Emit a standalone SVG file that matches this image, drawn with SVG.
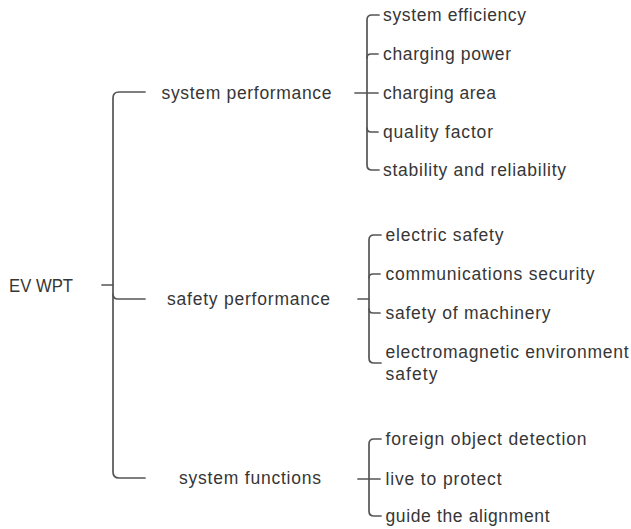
<svg xmlns="http://www.w3.org/2000/svg" width="631" height="529" viewBox="0 0 631 529">
  <style>
    text { font-family: "Liberation Sans", Arial, Helvetica, sans-serif; font-size: 17.5px; fill: #363636; }
    .link { fill: none; stroke: #555555; stroke-width: 1.7; stroke-linecap: round; stroke-linejoin: round; }
  </style>
  <rect width="631" height="529" fill="#ffffff"/>

  <!-- connectors -->
  <g id="connectors">
    <!-- root bracket -->
    <path class="link" d="M102,285 H113"/>
    <path class="link" d="M145,92 H119 Q113,92 113,98 V472 Q113,478 119,478 H145"/>
    <path class="link" d="M113,294 Q113,299 118,299 H145"/>

    <!-- system performance bracket -->
    <path class="link" d="M355,93 H378"/>
    <path class="link" d="M379,15 H372 Q367,15 367,20 V165 Q367,170 372,170 H379"/>
    <path class="link" d="M378,54 H371 Q367,54 367,58"/>
    <path class="link" d="M367,128 Q367,132 371,132 H378"/>

    <!-- safety performance bracket -->
    <path class="link" d="M358,299 H369"/>
    <path class="link" d="M381,235 H374 Q369,235 369,240 V358 Q369,363 374,363 H381"/>
    <path class="link" d="M380,274 H373 Q369,274 369,278"/>
    <path class="link" d="M369,309 Q369,313 373,313 H380"/>

    <!-- system functions bracket -->
    <path class="link" d="M358,479 H380"/>
    <path class="link" d="M381,439 H374 Q369,439 369,444 V511 Q369,516 374,516 H381"/>
  </g>

  <!-- root -->
  <g id="node-root">
    <text x="9" y="291.5" textLength="64" lengthAdjust="spacingAndGlyphs">EV WPT</text>
  </g>

  <!-- level 1 -->
  <g id="node-system-performance">
    <text x="161.5" y="98.5" textLength="170" lengthAdjust="spacing">system performance</text>
  </g>
  <g id="node-safety-performance">
    <text x="167" y="305" textLength="163" lengthAdjust="spacing">safety performance</text>
  </g>
  <g id="node-system-functions">
    <text x="179" y="483.5" textLength="142" lengthAdjust="spacing">system functions</text>
  </g>

  <!-- system performance items -->
  <g id="node-system-efficiency">
    <text x="383" y="20.5" textLength="143" lengthAdjust="spacing">system efficiency</text>
  </g>
  <g id="node-charging-power">
    <text x="383" y="59.5" textLength="128" lengthAdjust="spacing">charging power</text>
  </g>
  <g id="node-charging-area">
    <text x="383" y="98.5" textLength="113" lengthAdjust="spacing">charging area</text>
  </g>
  <g id="node-quality-factor">
    <text x="383" y="137.5" textLength="110" lengthAdjust="spacing">quality factor</text>
  </g>
  <g id="node-stability">
    <text x="383" y="175.5" textLength="183" lengthAdjust="spacing">stability and reliability</text>
  </g>

  <!-- safety performance items -->
  <g id="node-electric-safety">
    <text x="385.5" y="240.5" textLength="118" lengthAdjust="spacing">electric safety</text>
  </g>
  <g id="node-communications-security">
    <text x="385.5" y="279.5" textLength="209" lengthAdjust="spacing">communications security</text>
  </g>
  <g id="node-safety-of-machinery">
    <text x="385.5" y="318.5" textLength="165" lengthAdjust="spacing">safety of machinery</text>
  </g>
  <g id="node-electromagnetic">
    <text x="385.5" y="357.5" textLength="243" lengthAdjust="spacing">electromagnetic environment</text>
    <text x="385.5" y="379.5" textLength="52" lengthAdjust="spacing">safety</text>
  </g>

  <!-- system functions items -->
  <g id="node-foreign-object">
    <text x="385.5" y="444.5" textLength="201" lengthAdjust="spacing">foreign object detection</text>
  </g>
  <g id="node-live-protect">
    <text x="385.5" y="484.5" textLength="116" lengthAdjust="spacing">live to protect</text>
  </g>
  <g id="node-guide-alignment">
    <text x="385.5" y="521.5" textLength="164" lengthAdjust="spacing">guide the alignment</text>
  </g>
</svg>
